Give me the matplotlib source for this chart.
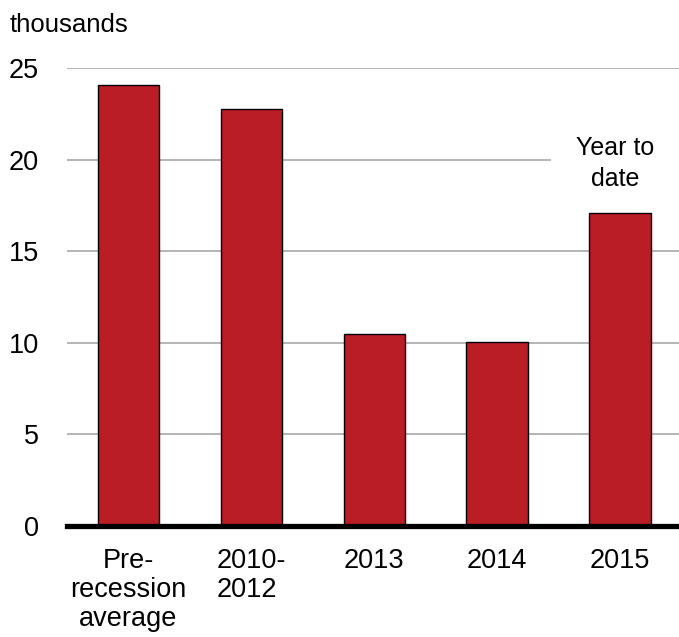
import matplotlib
matplotlib.use("Agg")
import matplotlib.pyplot as plt

# data
categories = ["Pre-\nrecession\naverage", "2010-\n2012", "2013", "2014", "2015"]
values = [24.1, 22.8, 10.45, 10.05, 17.07]
y_ticks = [0, 5, 10, 15, 20, 25]

plt.rcParams['font.family'] = ['Liberation Sans', 'DejaVu Sans']

fig = plt.figure(figsize=(6.79, 6.37), dpi=100)
ax = fig.add_axes([67 / 679, 1 - 525.5 / 637, 1 - 67 / 679, (525.5 - 68) / 637])

x = range(len(values))
ax.bar(x, values, width=0.5, color='#BA1D23', edgecolor='black', linewidth=1, zorder=3)

ax.set_xlim(-0.5, 4.48)
ax.set_ylim(0, 25.02)
ax.set_yticks(y_ticks)
ax.set_xticks(list(x))
ax.set_xticklabels(categories, fontsize=19.5, linespacing=1.15)
ax.get_xticklabels()[1].set_multialignment('left')
ax.tick_params(axis='y', labelsize=19.5, length=0, pad=20)
ax.tick_params(axis='x', length=0, pad=16)

ax.set_axisbelow(True)
ax.yaxis.grid(True, color='#A0A0A0', linewidth=1.1)
for side in ['left', 'right', 'top']:
    ax.spines[side].set_visible(False)
ax.spines['bottom'].set_linewidth(3.8)
ax.spines['bottom'].set_color('black')
ax.spines['bottom'].set_zorder(4)

ax.text(3.96, 19.8, "Year to\ndate", fontsize=18, ha='center', va='center',
        linespacing=1.35, zorder=2,
        bbox=dict(boxstyle='square,pad=1.0', facecolor='white', edgecolor='none'))

fig.text(10 / 679, 1 - 25 / 637, "thousands", fontsize=18.5, ha='left', va='center')

fig.savefig("out.png", dpi=100)
